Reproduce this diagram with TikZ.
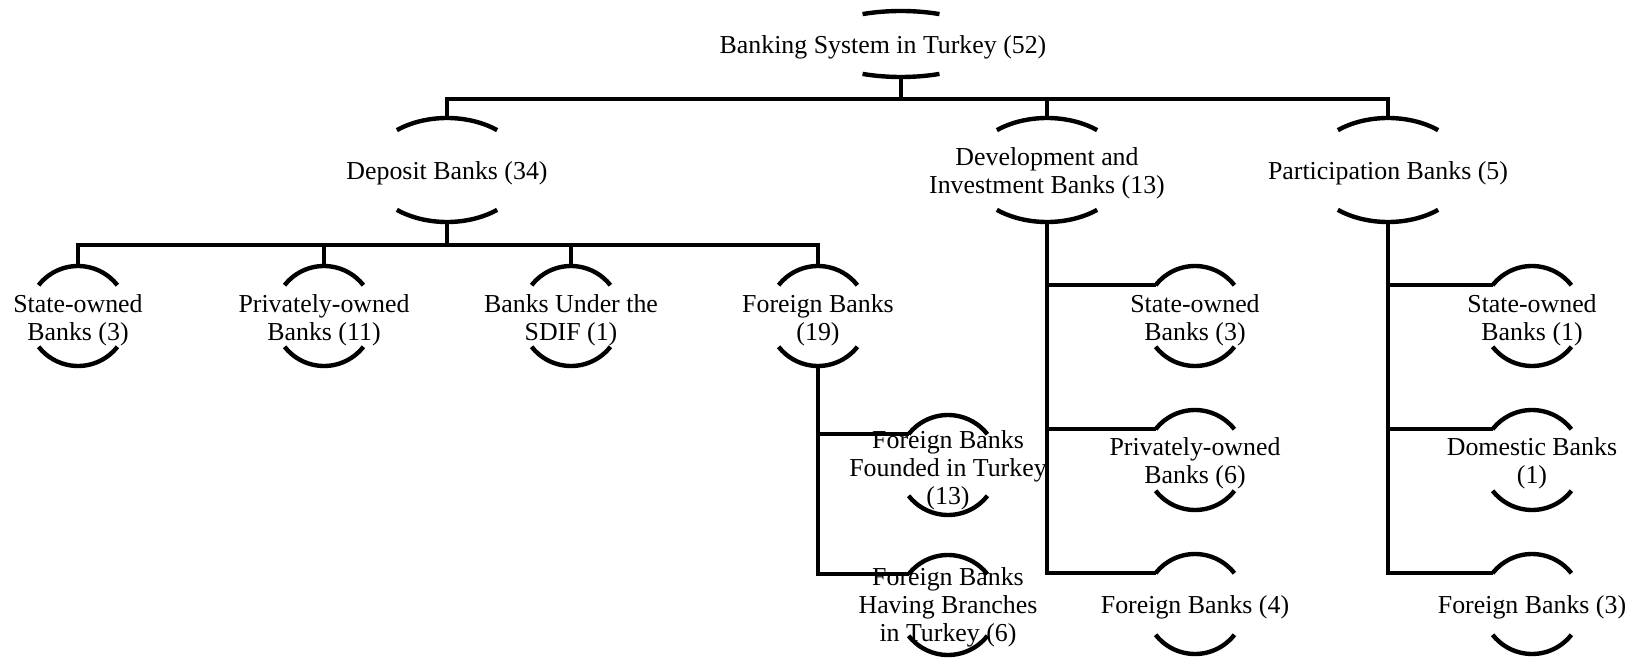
\documentclass[tikz,border=0pt]{standalone}
\usepackage{fontspec}
\setmainfont{Liberation Serif}
\usetikzlibrary{calc}

\tikzset{every picture/.style={line width=0.75pt}}
\tikzset{
  link/.style={line width=3.3pt},
  capline/.style={line width=3.3pt},
  banklabel/.style={align=center, inner sep=0.75pt, font=\fontsize{19.4pt}{21pt}\selectfont},
}

% arcs above and below a label: [shift of the arcs] name, x radius, y radius, angle
\newcommand{\bankarcs}[5][(0,0)]{%
  \coordinate (#2-c) at ($(#2.center)+#1$);
  \draw[capline] (#2-c) ++(180+#5:#3 and #4) coordinate (#2-l)
    arc[start angle=180+#5, end angle=360-#5, x radius=#3, y radius=#4];
  \draw[capline] (#2-c) ++(#5:#3 and #4)
    arc[start angle=#5, end angle=180-#5, x radius=#3, y radius=#4];
  \coordinate (#2-t) at ($(#2-c)+(0,-#4)$);
  \coordinate (#2-b) at ($(#2-c)+(0,#4)$);
}

\begin{document}
\begin{tikzpicture}[x=0.75pt,y=0.75pt,yscale=-1,xscale=1]
\useasboundingbox (0,0) rectangle (1639,659);

% Text Nodes
\node[banklabel] (root) at (883,47) {Banking System in Turkey (52)};
\node[banklabel] (dep) at (447,173) {Deposit Banks (34)};
\node[banklabel] (dev) at (1047,173) {Development and\\Investment Banks (13)};
\node[banklabel] (part) at (1388,173) {Participation Banks (5)};
\node[banklabel] (dstate) at (78,320) {State-owned\\Banks (3)};
\node[banklabel] (dpriv) at (324,320) {Privately-owned\\Banks (11)};
\node[banklabel] (dsdif) at (571,320) {Banks Under the\\SDIF (1)};
\node[banklabel] (dfor) at (818,320) {Foreign Banks\\(19)};
\node[banklabel] (ffound) at (948,470) {Foreign Banks\\Founded in Turkey\\(13)};
\node[banklabel] (fbranch) at (948,607) {Foreign Banks\\Having Branches\\in Turkey (6)};
\node[banklabel] (vstate) at (1195,320) {State-owned\\Banks (3)};
\node[banklabel] (vpriv) at (1195,463) {Privately-owned\\Banks (6)};
\node[banklabel] (vfor) at (1195,607) {Foreign Banks (4)};
\node[banklabel] (pstate) at (1532,320) {State-owned\\Banks (1)};
\node[banklabel] (pdom) at (1532,463) {Domestic Banks\\(1)};
\node[banklabel] (pfor) at (1532,607) {Foreign Banks (3)};

% Arcs
\bankarcs[(18,-3)]{root}{91}{33}{65}
\foreach \n in {dep,dev,part} {\bankarcs[(0,-3)]{\n}{78}{52}{50}}
\foreach \n in {dstate,dpriv,dsdif,dfor,vstate,pstate}
  {\bankarcs[(0,-4)]{\n}{50}{50}{38}}
\foreach \n in {vpriv,pdom,vfor,pfor}
  {\bankarcs[(0,-3)]{\n}{50}{50}{38}}
\bankarcs[(0,-5)]{ffound}{50}{50}{38}
\bankarcs[(0,-2)]{fbranch}{50}{50}{38}

% Connectors
\draw[link] (root-b) -- ++(0,22) coordinate (topbus);
\draw[link] (dep-t) |- (topbus) -| (part-t);
\draw[link] (dev-t) -- (dev-t |- topbus);
\draw[link] (dep-b) -- ++(0,23) coordinate (depbus);
\draw[link] (dstate-t) |- (depbus) -| (dfor-t);
\draw[link] (dpriv-t) -- (dpriv-t |- depbus);
\draw[link] (dsdif-t) -- (dsdif-t |- depbus);
\foreach \n in {ffound,fbranch} \draw[link] (dfor-b) |- (\n-l);
\foreach \n in {vstate,vpriv,vfor} \draw[link] (dev-b) |- (\n-l);
\foreach \n in {pstate,pdom,pfor} \draw[link] (part-b) |- (\n-l);
\end{tikzpicture}
\end{document}
